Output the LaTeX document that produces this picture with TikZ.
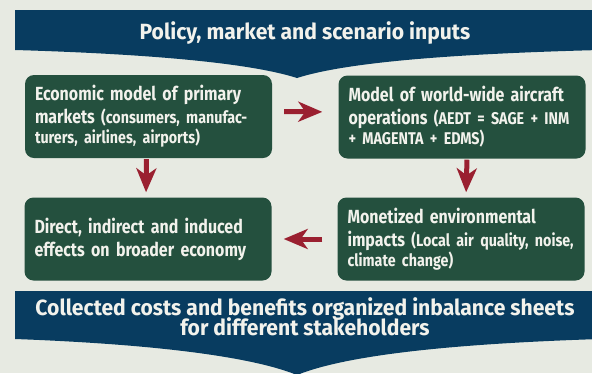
\documentclass[tikz,border=0pt]{standalone}
\usepackage{fontspec}
\newfontfamily\labelfont{Fira Sans}[FakeStretch=0.84]
\newfontfamily\titlefont{Fira Sans}[FakeStretch=0.96]
\usetikzlibrary{arrows.meta}
\definecolor{paper}{RGB}{231,234,226}
\definecolor{bannerblue}{RGB}{8,60,96}
\definecolor{boxgreen}{RGB}{36,80,62}
\definecolor{flowred}{RGB}{154,32,48}
\definecolor{ink}{RGB}{242,242,236}
\tikzset{
  stagebox/.style={fill=boxgreen, draw=none, rounded corners=9pt,
    minimum width=247pt, minimum height=83pt, text width=227pt,
    align=left, inner sep=0pt, text=ink,
    font=\labelfont\bfseries\fontsize{19}{23}\selectfont},
  bannertext/.style={text=ink, align=center, inner sep=0pt,
    font=\titlefont\bfseries\fontsize{22}{20}\selectfont},
  flow/.style={draw=flowred, line width=5pt,
    -{Stealth[length=24pt,width=20pt,inset=7pt]}}
}
\newcommand{\aside}[1]{{\fontsize{17}{20}\selectfont #1}}
\begin{document}
\begin{tikzpicture}[x=1pt,y=-1pt]
  \fill[paper] (0,0) rectangle (592,373);
  \useasboundingbox (0,0) rectangle (592,373);

  % input banner with downward chevron
  \fill[bannerblue] (15,10) -- (600,10) -- (600,50)
    .. controls (444,54) and (344,63) .. (297,78)
    .. controls (250,63) and (150,54) .. (15,50) -- cycle;
  \node[bannertext, anchor=base] (inputs) at (305,39)
    {Policy, market and scenario inputs};

  % output banner with downward chevron
  \fill[bannerblue] (15,291) -- (600,291) -- (600,339)
    .. controls (444,344) and (344,356) .. (297,375)
    .. controls (250,356) and (150,344) .. (15,339) -- cycle;
  \node[bannertext, anchor=base] (outputs) at (305,315)
    {Collected costs and benefits organized inbalance sheets};
  \node[bannertext, anchor=base] (outputs2) at (305,335)
    {for different stakeholders};

  % model stages
  \node[stagebox] (econ) at (148.5,116.5)
    {Economic model of primary\\
     markets \aside{(consumers, manufac-}\\[-3pt]
     \aside{turers, airlines, airports)}};
  \node[stagebox] (ops) at (462,117)
    {Model of world-wide aircraft\\
     operations \aside{(AEDT = SAGE + INM}\\[-3pt]
     \aside{+ MAGENTA + EDMS)}};
  \node[stagebox] (direct) at (148,239)
    {Direct, indirect and induced\\effects on broader economy};
  \node[stagebox] (impacts) at (461,239)
    {Monetized environmental\\
     impacts \aside{(Local air quality, noise,}\\[-3pt]
     \aside{climate change)}};

  % flow between stages
  \draw[flow, shorten <=12pt, shorten >=16pt]
    ([yshift=5pt]econ.east) -- ([yshift=5pt]ops.west);
  \draw[flow, shorten <=1pt, shorten >=5pt]
    ([xshift=-2pt]econ.south) -- ([xshift=-2pt]direct.north);
  \draw[flow, shorten <=1pt, shorten >=5pt]
    ([xshift=5pt]ops.south) -- ([xshift=5pt]impacts.north);
  \draw[flow, shorten <=15pt, shorten >=12pt]
    (impacts.west) -- (direct.east);
\end{tikzpicture}
\end{document}
